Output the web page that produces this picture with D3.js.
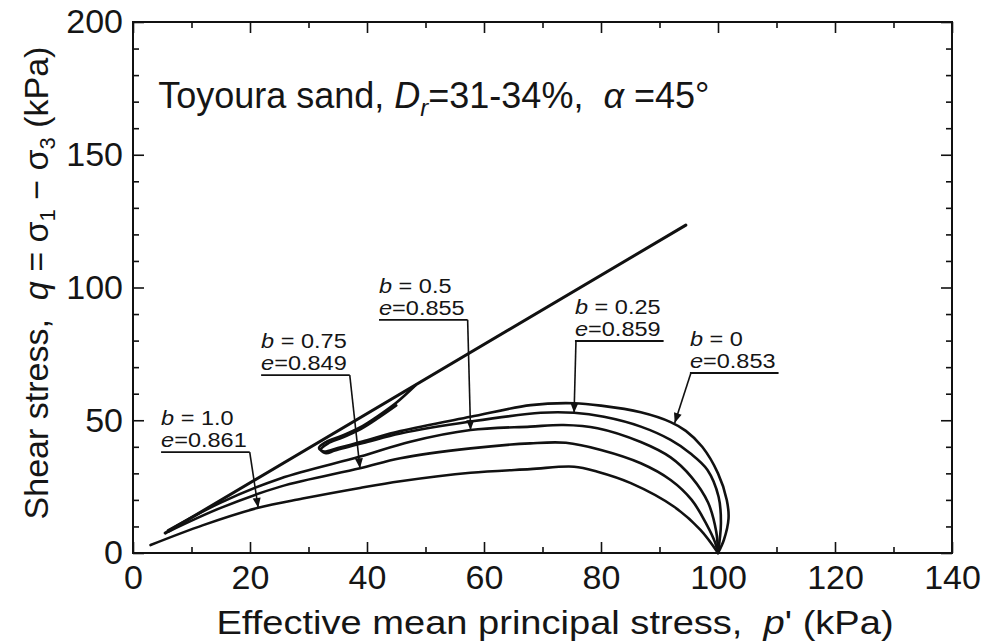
<!DOCTYPE html>
<html>
<head>
<meta charset="utf-8">
<script src="https://cdn.jsdelivr.net/npm/d3@7"></script>
<style>
  body { margin: 0; background: #fff; }
  svg { display: block; }
  text { font-family: "Liberation Sans", Arial, Helvetica, sans-serif; fill: #151515; }
</style>
</head>
<body>
<svg id="chart" width="987" height="642"></svg>
<script>
// Undrained effective stress paths [p' (kPa), q (kPa)], each starting at p' = 100 kPa
const pathB0 = [[100,0],[101,4.9],[101.8,13],[101.5,20],[100,30],[97.3,40],[94.5,46],[91.9,49.3],[86.8,53],[80,55.5],[75.4,56.4],[68,55.7],[57.7,51.3],[45.7,45.9],[40,42.5],[35,39.5],[32.6,38.2],[31.8,39.6],[33,41.8],[35.5,44],[38.8,47.3],[42,51.8],[45,56.6],[48.3,63.2]];
const pathB025 = [[100,0],[100.5,11.2],[100.1,21.2],[98.2,31.3],[95.3,37.5],[91.9,42.6],[86.8,47.6],[80.5,51.3],[75.4,52.8],[69.7,52.8],[57.7,49.5],[45.7,45],[40,41.8],[34.5,38.6],[33,37.6],[32.1,38.9],[33.3,41.2],[35.8,43.5],[39,46.8],[42,51],[45,55.6]];
const pathB05 = [[100,0],[99.7,8],[98.3,19],[95.5,28.5],[91.9,36],[86.8,41.8],[79.4,47],[73.6,48.2],[67.9,47.6],[57.7,46.3],[47.4,41.9],[38.8,36.3],[25.2,28.1],[15,19],[6,8.5]];
const pathB075 = [[100,0],[99.5,4],[98,11],[95.5,20],[91.9,27.5],[86.8,33.8],[80,38.8],[74,41.5],[67.9,41.3],[57.7,39.4],[45.7,35.7],[38.8,31.9],[25.2,25],[15,17],[6,8]];
const pathB10 = [[100,0],[97,8.7],[92.5,17.4],[85.1,26.3],[79.4,30.6],[75.4,32.5],[67.9,31.6],[57.7,30.2],[45.7,27],[38.8,24.5],[29,20.5],[21.4,17],[12,10.5],[3,3]];
// Straight reference line
const refLine = [[5.5,7.5],[94.5,123.5]];

const bValues = ["0", "0.25", "0.5", "0.75", "1.0"];
const eValues = ["0.853", "0.859", "0.855", "0.849", "0.861"];
const seriesPaths = [pathB0, pathB025, pathB05, pathB075, pathB10];
// Point on each path that its label's leader touches
const leaderTargets = [[92.6,49.0],[75.4,52.8],[57.7,46.3],[38.8,31.9],[21.4,17]];

const xTickValues = [0, 20, 40, 60, 80, 100, 120, 140];
const xTickLabels = ["0", "20", "40", "60", "80", "100", "120", "140"];
const yTickValues = [0, 50, 100, 150, 200];
const yTickLabels = ["0", "50", "100", "150", "200"];

// ---- layout ----
const svg = d3.select("#chart");
const x = d3.scaleLinear().domain([0, 140]).range([133, 952]);
const y = d3.scaleLinear().domain([0, 200]).range([553, 22]);

// label underline anchors (left end), in data units, and which end the leader leaves from
const labelAnchors = [[95.2,67.8],[75.55,79.85],[42.05,87.8],[21.9,67.0],[4.8,38.0]];
const leaderFromLeft = [true, true, false, false, false];

const tickFont = 34;

function styleAxis(g) {
  g.select(".domain").remove();
  g.selectAll(".tick line").attr("stroke", "#111").attr("stroke-width", 1.6);
  g.selectAll(".tick text").attr("font-size", tickFont)
    .attr("font-family", '"Liberation Sans", Arial, sans-serif').attr("fill", "#151515");
}

// minor ticks (every 10)
const xMinor = d3.range(10, 140, 20);
const yMinor = d3.range(10, 200, 10).filter(v => v % 50 !== 0);

svg.append("g").attr("transform", `translate(0,${y(0)})`)
  .call(d3.axisBottom(x).tickValues(xMinor).tickFormat("").tickSizeInner(-6).tickSizeOuter(0)).call(styleAxis);
svg.append("g").attr("transform", `translate(0,${y(200)})`)
  .call(d3.axisTop(x).tickValues(xMinor).tickFormat("").tickSizeInner(-6).tickSizeOuter(0)).call(styleAxis);
svg.append("g").attr("transform", `translate(${x(0)},0)`)
  .call(d3.axisLeft(y).tickValues(yMinor).tickFormat("").tickSizeInner(-6).tickSizeOuter(0)).call(styleAxis);
svg.append("g").attr("transform", `translate(${x(140)},0)`)
  .call(d3.axisRight(y).tickValues(yMinor).tickFormat("").tickSizeInner(-6).tickSizeOuter(0)).call(styleAxis);

// major ticks with labels
svg.append("g").attr("transform", `translate(0,${y(0)})`)
  .call(d3.axisBottom(x).tickValues(xTickValues).tickFormat((d, i) => xTickLabels[i])
    .tickSizeInner(-11).tickSizeOuter(0).tickPadding(12)).call(styleAxis);
svg.append("g").attr("transform", `translate(0,${y(200)})`)
  .call(d3.axisTop(x).tickValues(xTickValues).tickFormat("").tickSizeInner(-11).tickSizeOuter(0)).call(styleAxis);
svg.append("g").attr("transform", `translate(${x(0)},0)`)
  .call(d3.axisLeft(y).tickValues(yTickValues).tickFormat((d, i) => yTickLabels[i])
    .tickSizeInner(-11).tickSizeOuter(0).tickPadding(10)).call(styleAxis);
svg.append("g").attr("transform", `translate(${x(140)},0)`)
  .call(d3.axisRight(y).tickValues(yTickValues).tickFormat("").tickSizeInner(-11).tickSizeOuter(0)).call(styleAxis);

// frame
svg.append("rect")
  .attr("x", x(0)).attr("y", y(200))
  .attr("width", x(140) - x(0)).attr("height", y(0) - y(200))
  .attr("fill", "none").attr("stroke", "#111").attr("stroke-width", 2);

// stress paths
const line = d3.line().x(d => x(d[0])).y(d => y(d[1])).curve(d3.curveCatmullRom.alpha(0.5));
svg.append("g").selectAll("path").data(seriesPaths).join("path")
  .attr("d", line).attr("fill", "none").attr("stroke", "#111")
  .attr("stroke-width", 2.6).attr("stroke-linejoin", "round").attr("stroke-linecap", "round");

svg.append("path").datum(refLine)
  .attr("d", d3.line().x(d => x(d[0])).y(d => y(d[1])))
  .attr("fill", "none").attr("stroke", "#111").attr("stroke-width", 3).attr("stroke-linecap", "round");

// labels with underline, leader and arrowhead
const labelFont = 21, labelStretch = 1.12;
const ann = svg.append("g");
bValues.forEach((b, i) => {
  const ax = x(labelAnchors[i][0]), ay = y(labelAnchors[i][1]);
  const g = ann.append("g");
  const tg = g.append("g").attr("transform", `translate(${ax},${ay}) scale(${labelStretch},1)`);
  const t1 = tg.append("text").attr("x", 0).attr("y", -27).attr("font-size", labelFont);
  t1.append("tspan").attr("font-style", "italic").text("b");
  t1.append("tspan").text(" = " + b);
  const t2 = tg.append("text").attr("x", 0).attr("y", -5).attr("font-size", labelFont);
  t2.append("tspan").attr("font-style", "italic").text("e");
  t2.append("tspan").text("=" + eValues[i]);
  const w = Math.max(t1.node().getComputedTextLength(), t2.node().getComputedTextLength()) * labelStretch + 3;
  g.append("line").attr("x1", ax).attr("x2", ax + w).attr("y1", ay).attr("y2", ay)
    .attr("stroke", "#111").attr("stroke-width", 1.8);
  const sx = leaderFromLeft[i] ? ax + 1 : ax + w;
  const tx = x(leaderTargets[i][0]), ty = y(leaderTargets[i][1]);
  g.append("line").attr("x1", sx).attr("y1", ay).attr("x2", tx).attr("y2", ty)
    .attr("stroke", "#111").attr("stroke-width", 1.6);
  const ang = Math.atan2(ty - ay, tx - sx);
  const L = 10, Wd = 4;
  const bx = tx - L * Math.cos(ang), by = ty - L * Math.sin(ang);
  const px = -Math.sin(ang) * Wd, py = Math.cos(ang) * Wd;
  g.append("path")
    .attr("d", `M${tx},${ty}L${bx + px},${by + py}L${bx - px},${by - py}Z`)
    .attr("fill", "#111");
});

// test conditions
const title = svg.append("text").attr("x", x(4.3)).attr("y", y(167.6)).attr("font-size", 36);
title.append("tspan").text("Toyoura sand, ");
title.append("tspan").attr("font-style", "italic").text("D");
title.append("tspan").attr("font-style", "italic").attr("font-size", 24).attr("dy", 8).text("r");
title.append("tspan").attr("dy", -8).text("=31-34%,\u00a0\u00a0");
title.append("tspan").attr("font-style", "italic").text("\u03b1");
title.append("tspan").text("\u00a0=45\u00b0");

// axis titles
const xt = svg.append("g").attr("transform", "translate(555,634) scale(1.12,1)")
  .append("text").attr("x", 0).attr("y", 0).attr("text-anchor", "middle").attr("font-size", 34);
xt.append("tspan").text("Effective mean principal stress,\u00a0\u00a0");
xt.append("tspan").attr("font-style", "italic").text("p");
xt.append("tspan").text("' (kPa)");

const yt = svg.append("text").attr("transform", "translate(48,283) rotate(-90)")
  .attr("text-anchor", "middle").attr("font-size", 34);
yt.append("tspan").text("Shear stress,\u00a0\u00a0");
yt.append("tspan").attr("font-style", "italic").text("q");
yt.append("tspan").text(" = \u03c3");
yt.append("tspan").attr("font-size", 22).attr("dy", 7).text("1");
yt.append("tspan").attr("dy", -7).text(" \u2212 \u03c3");
yt.append("tspan").attr("font-size", 22).attr("dy", 7).text("3");
yt.append("tspan").attr("dy", -7).text(" (kPa)");
</script>
</body>
</html>
